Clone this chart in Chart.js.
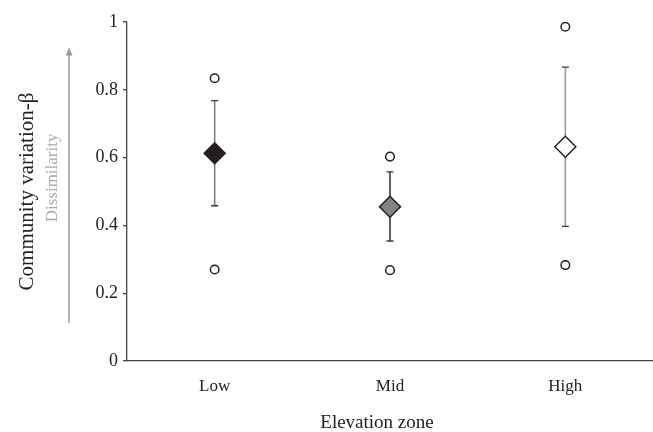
<!DOCTYPE html>
<html>
<head>
<meta charset="utf-8">
<script src="https://cdn.jsdelivr.net/npm/chart.js@4/dist/chart.umd.min.js"></script>
<style>
  html, body { margin: 0; padding: 0; overflow: hidden; background: #fff; }
  #wrap { position: relative; width: 653px; height: 432px; }
  #betaChart { display: block; }
</style>
</head>
<body>
<div id="wrap"><canvas id="betaChart"></canvas></div>
<script>
var zones = ['Low', 'Mid', 'High'];
var means = [0.613, 0.455, 0.632];
var upperErr = [0.768, 0.558, 0.867];
var lowerErr = [0.458, 0.354, 0.397];
var maxVals = [0.834, 0.603, 0.986];
var minVals = [0.270, 0.268, 0.283];
var yTicks = [0, 0.2, 0.4, 0.6, 0.8, 1];

var serif = "'Liberation Serif', 'Times New Roman', serif";

// error bars, drawn under the diamonds
var errorBars = {
    id: 'errorBars',
    beforeDatasetsDraw: function(chart) {
        var ctx = chart.ctx;
        var xs = chart.scales.x, ys = chart.scales.y;
        var lineColors = ['#7f7f7f', '#3a3a3a', '#9a9a9a'];
        ctx.save();
        for (var i = 0; i < zones.length; i++) {
            var x = xs.getPixelForValue(i);
            var yt = ys.getPixelForValue(upperErr[i]);
            var yb = ys.getPixelForValue(lowerErr[i]);
            ctx.strokeStyle = lineColors[i];
            ctx.lineWidth = 1.6;
            ctx.beginPath();
            ctx.moveTo(x, yt);
            ctx.lineTo(x, yb);
            ctx.stroke();
            ctx.strokeStyle = '#3a3a3a';
            ctx.lineWidth = 1.3;
            ctx.beginPath();
            ctx.moveTo(x - 3.5, yt);
            ctx.lineTo(x + 3.5, yt);
            ctx.moveTo(x - 3.5, yb);
            ctx.lineTo(x + 3.5, yb);
            ctx.stroke();
        }
        ctx.restore();
    }
};

// grey "Dissimilarity" arrow beside the y axis, plus the x title
// (the original sits a little left of the plot centre)
var extras = {
    id: 'extras',
    afterDraw: function(chart) {
        var ctx = chart.ctx;
        var ys = chart.scales.y;
        var area = chart.chartArea;
        var x = 69;
        var yTop = ys.getPixelForValue(0.925);
        var yBot = ys.getPixelForValue(0.112);
        ctx.save();
        ctx.strokeStyle = '#9a9a9a';
        ctx.fillStyle = '#9a9a9a';
        ctx.lineWidth = 1.5;
        ctx.beginPath();
        ctx.moveTo(x, yBot);
        ctx.lineTo(x, yTop + 6);
        ctx.stroke();
        ctx.beginPath();
        ctx.moveTo(x, yTop);
        ctx.lineTo(x - 3.5, yTop + 8);
        ctx.lineTo(x + 3.5, yTop + 8);
        ctx.closePath();
        ctx.fill();

        ctx.fillStyle = '#222';
        ctx.font = '19px ' + serif;
        ctx.textAlign = 'center';
        ctx.textBaseline = 'alphabetic';
        ctx.fillText('Elevation zone', (area.left + area.right) / 2 - 13, 428);

        ctx.translate(53, ys.getPixelForValue(0.54));
        ctx.rotate(-Math.PI / 2);
        ctx.fillStyle = '#ababab';
        ctx.font = '17px ' + serif;
        ctx.textBaseline = 'middle';
        ctx.fillText('Dissimilarity', 0, 0);
        ctx.restore();
    }
};

var ctx = document.getElementById('betaChart').getContext('2d');
var chart = new Chart(ctx, {
    type: 'line',
    data: {
        labels: zones,
        datasets: [{
            label: 'Mean',
            data: means,
            showLine: false,
            pointStyle: 'rectRot',
            pointRadius: 10.5,
            pointBackgroundColor: ['#231f20', '#838383', '#ffffff'],
            pointBorderColor: '#231f20',
            pointBorderWidth: 1.5
        }, {
            label: 'Max',
            data: maxVals,
            showLine: false,
            pointStyle: 'circle',
            pointRadius: 4.3,
            pointBackgroundColor: '#ffffff',
            pointBorderColor: '#231f20',
            pointBorderWidth: 1.5
        }, {
            label: 'Min',
            data: minVals,
            showLine: false,
            pointStyle: 'circle',
            pointRadius: 4.3,
            pointBackgroundColor: '#ffffff',
            pointBorderColor: '#231f20',
            pointBorderWidth: 1.5
        }]
    },
    options: {
        responsive: true,
        maintainAspectRatio: false,
        animation: false,
        layout: { autoPadding: false, padding: { top: 22, right: 0, bottom: 0, left: 0 } },
        plugins: {
            legend: { display: false },
            tooltip: { enabled: false }
        },
        scales: {
            x: {
                offset: true,
                grid: { display: false, drawTicks: false },
                border: { color: '#444', width: 1.3 },
                ticks: { color: '#222', padding: 15, font: { family: serif, size: 17 } },
                afterFit: function(scale) {
                    scale.height = 71;
                    scale.paddingLeft = 0;
                    scale.paddingRight = 0;
                }
            },
            y: {
                min: 0,
                max: 1,
                afterBuildTicks: function(scale) {
                    scale.ticks = yTicks.map(function(v) { return { value: v }; });
                },
                grid: { drawOnChartArea: false, tickLength: 4, color: '#444', lineWidth: 1.3 },
                border: { color: '#444', width: 1.3 },
                ticks: {
                    color: '#222',
                    padding: 5,
                    font: { family: serif, size: 18 },
                    callback: function(v) { return String(v); }
                },
                title: {
                    display: true,
                    text: 'Community variation-β',
                    color: '#222',
                    padding: { top: 15, bottom: 0 },
                    font: { family: serif, size: 21, lineHeight: 1.2 }
                },
                afterFit: function(scale) { scale.width = 127; }
            }
        }
    },
    plugins: [errorBars, extras]
});
</script>
</body>
</html>
